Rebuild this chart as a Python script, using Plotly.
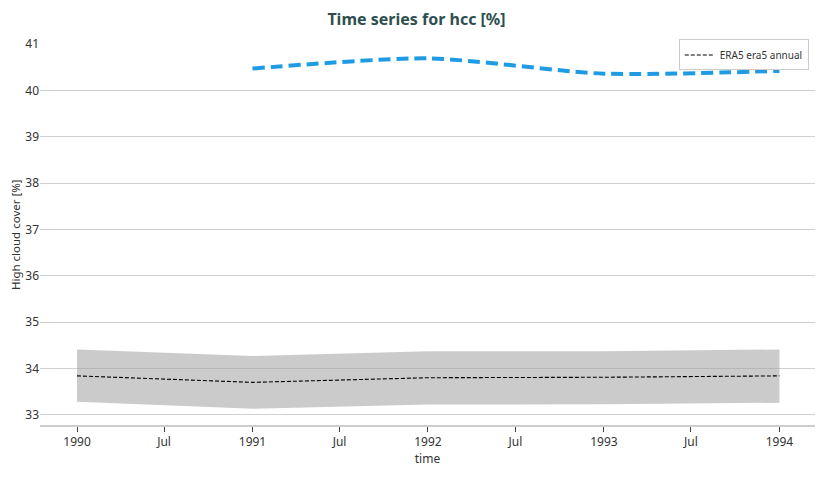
import plotly.graph_objects as go

years = ["1990-01-01", "1991-01-01", "1992-01-01", "1993-01-01", "1994-01-01"]
era5_annual = [33.84, 33.70, 33.80, 33.81, 33.84]
band_upper = [34.41, 34.27, 34.37, 34.37, 34.41]
band_lower = [33.28, 33.13, 33.22, 33.23, 33.26]

blue_years = ["1991-01-01", "1992-01-01", "1993-01-01", "1994-01-01"]
blue_values = [40.47, 40.69, 40.36, 40.42]

tick_vals = ["1990-01-01", "1990-07-01", "1991-01-01", "1991-07-01", "1992-01-01",
             "1992-07-01", "1993-01-01", "1993-07-01", "1994-01-01"]
tick_text = ["1990", "Jul", "1991", "Jul", "1992", "Jul", "1993", "Jul", "1994"]

fig = go.Figure()
fig.add_trace(go.Scatter(x=years, y=band_upper, mode="lines", line=dict(width=0),
                         showlegend=False, hoverinfo="skip"))
fig.add_trace(go.Scatter(x=years, y=band_lower, mode="lines", line=dict(width=0),
                         fill="tonexty", fillcolor="rgba(160,160,160,0.55)",
                         showlegend=False, hoverinfo="skip"))
fig.add_trace(go.Scatter(x=years, y=era5_annual, mode="lines", name="ERA5 era5 annual",
                         line=dict(color="black", width=1.1, dash="4px,2px")))
fig.add_trace(go.Scatter(x=blue_years, y=blue_values, mode="lines", showlegend=False,
                         line=dict(color="#1f9be3", width=4, dash="12px,6px", shape="spline",
                                   smoothing=0.7)))

font = "Noto Sans, Ubuntu, DejaVu Sans, sans-serif"
fig.update_layout(
    width=817, height=470,
    margin=dict(l=32, r=10, t=36, b=53),
    paper_bgcolor="white", plot_bgcolor="white",
    font=dict(family=font, size=12, color="#333333"),
    title=dict(text="<b>Time series for hcc [%]</b>", x=0.5, xanchor="center",
               y=0.975, yanchor="middle",
               font=dict(size=16, color="#2f4f4f", family=font)),
    legend=dict(x=0.992, y=1.012, xanchor="right", yanchor="top", bgcolor="white",
                bordercolor="#cccccc", borderwidth=1, font=dict(size=10),
                tracegroupgap=0, itemwidth=30),
    xaxis=dict(range=["1989-10-16", "1994-03-16"], tickvals=tick_vals, ticktext=tick_text,
               showgrid=False, ticks="outside", ticklen=5, tickcolor="#444",
               showline=True, linecolor="#cccccc", linewidth=2, automargin=False,
               title=dict(text="time", standoff=4, font=dict(size=12)), zeroline=False),
    yaxis=dict(range=[32.78, 41.0], dtick=1, showgrid=True, gridcolor="#d0d0d0",
               zeroline=False, automargin=False, ticklabelstandoff=0),
    annotations=[dict(text="High cloud cover [%]", textangle=-90, xref="paper", yref="paper",
                      x=-0.0315, y=0.5, xanchor="center", yanchor="middle", showarrow=False,
                      font=dict(size=11.5, color="#333333"))],
)
fig.write_html("out.html")
